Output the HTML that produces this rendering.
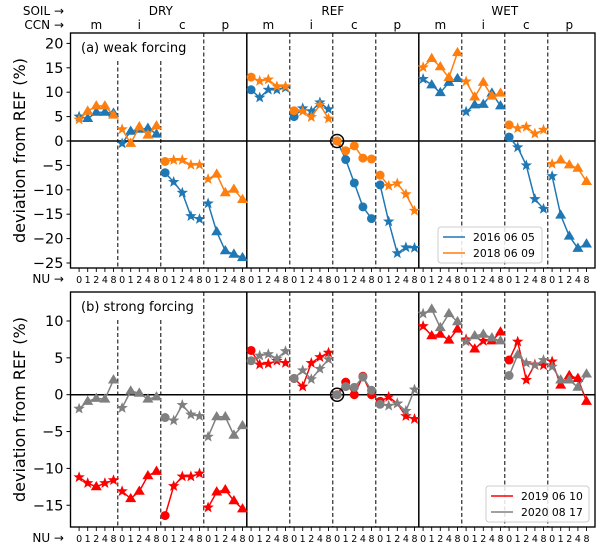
<!DOCTYPE html>
<html><head><meta charset="utf-8"><style>
body{margin:0;background:#fff;}
svg{display:block;font-family:"DejaVu Sans","Liberation Sans",sans-serif;}
</style></head><body>
<svg id="chart" width="600" height="551" viewBox="0 0 600 551"></svg>
<script>
// ---- data ----
const soilLabels = ["DRY","REF","WET"];
const ccnLabels = ["m","i","c","p"];
const nuLabels = ["0","1","2","4","8"];
const topTicks = [20,15,10,5,0,-5,-10,-15,-20,-25];
const botTicks = [10,5,0,-5,-10,-15];
const blue2016 = [5,4.6,5.9,5.9,5.7, -0.5,2,2.4,2.6,1.4, -6.5,-8.4,-10.6,-15.4,-16, -12.8,-18.6,-22.5,-23.2,-23.9,
  10.5,8.9,10.5,10.5,10.9, 5,6.7,6.1,7.9,6.5, 0,-3.8,-8.6,-13.5,-15.9, -9,-16.5,-23,-21.8,-21.9,
  12.7,11.5,9.9,12,12.8, 6,7.4,7.5,9.8,7.2, 0.8,-1.3,-5,-11.9,-13.9, -7.2,-15.2,-19.5,-22,-21.1];
const orange2018 = [4.4,6.1,7.2,7.2,5.3, 2.4,-0.5,2.9,1.2,3.1, -4.2,-3.9,-3.9,-4.9,-4.9, -7.8,-6.8,-10.6,-9.9,-12,
  13.1,12.3,12.6,11.2,11.2, 6.2,6.1,4.9,7.4,4.6, 0,-2,-1,-3.5,-3.7, -7,-9.2,-8.7,-10.9,-14.3,
  15.1,16.9,15.2,13,18.1, 12.2,9,12,9.2,9.8, 3.3,2.6,2.9,1.5,2.3, -4.7,-3.9,-4.9,-5.6,-8.3];
const red2019 = [-11.2,-12,-12.5,-12,-11.6, -13.1,-14.1,-13.1,-11,-10.4, -16.4,-12.4,-11.1,-11.1,-10.7, -15.3,-13.2,-12.9,-14.4,-15.5,
  6,4.1,4.2,4.6,4.3, 2.2,1.1,4.3,5.1,5.7, 0,1.7,0,2.5,0, -0.9,-0.3,-1.2,-2.9,-3.3,
  9.3,8,8.2,7.4,8.9, 7.5,6.2,7.3,7.3,8.5, 4.7,7.2,2,4.1,4, 4.5,1.3,2.6,2.2,-0.9];
const gray2020 = [-1.9,-0.9,-0.5,-0.6,2, -1.8,0.5,0.2,-0.6,-0.3, -3.1,-3.5,-1.4,-2.7,-2.9, -5.7,-3,-3,-5.5,-4.2,
  4.6,5.3,5.5,4.9,5.9, 2.2,3.3,2.1,3.5,4.8, 0,1.1,1,2.4,0.6, -1.3,-1.5,-1.2,-2.2,0.7,
  11,11.6,9.1,11,9.9, 7.2,8,8.2,7.7,7.3, 2.6,5.4,4.3,4,4.7, 3.8,2,2,1,2.8];
const mkBlue   = ["s^^^^","s^^^^","ossss","s^^^^","ossss","ossss","ooooo","ossss","s^^^^","s^^^^","ossss","s^^^^"].join("");
const mkOrange = mkBlue;
const mkRed    = ["ss^ss","s^^^^","ossss","s^^^^","ossss","ossss","ooooo","ossss","s^^^^","s^s^^","ossss","s^^^^"].join("");
const mkGray   = ["s^^^^","s^^^^","ossss","s^^^^","ossss","ossss","ooooo","ossss","s^^^^","s^^^^","o^sss","s^^^^"].join("");

// ---- geometry ----
const X0=70.5, DX=8.6, XR=595;
const xOf = i => X0 + DX*(i+1);
const panelTop = {y0:33, y1:268, zero:141, k:4.88};
const panelBot = {y0:292, y1:527, zero:394.7, k:7.37};
const yOf = (p,v) => p.zero - v*p.k;

const svg = document.getElementById('chart');
const NS = "http://www.w3.org/2000/svg";
function mk(tag, attrs, parent){ const e=document.createElementNS(NS,tag); for(const k in attrs) e.setAttribute(k,attrs[k]); (parent||svg).appendChild(e); return e; }

function star(cx,cy,r){ let d=""; for(let j=0;j<10;j++){ const a=-Math.PI/2+j*Math.PI/5; const rr=j%2?r*0.42:r; d+=(j?"L":"M")+(cx+rr*Math.cos(a)).toFixed(2)+","+(cy+rr*Math.sin(a)).toFixed(2);} return d+"Z"; }
function tri(cx,cy,r){ return `M${cx},${cy-r}L${cx+r*0.95},${cy+r*0.6}L${cx-r*0.95},${cy+r*0.6}Z`; }

function panel(p, label, series, ticks, key){
  const g = mk('g',{});
  
  
  const fr = mk('rect',{x:X0,y:p.y0,width:XR-X0,height:p.y1-p.y0,fill:'#fff',stroke:'#000','stroke-width':1.2},g);
  
  
  for(let b=1;b<12;b++){
    const x = X0 + DX*(5*b+0.5);
    if(b%4===0){
      const l=mk('line',{x1:x,x2:x,y1:p.y0,y2:p.y1,stroke:'#000','stroke-width':1.5},g);
      
      
    } else {
      const ys = (b<=2)? p.y0+28 : p.y0;
      const l=mk('line',{x1:x,x2:x,y1:ys,y2:p.y1,stroke:'#000','stroke-width':1,'stroke-dasharray':'4,2.5'},g);
      
      
    }
  }
  const zl=mk('line',{x1:X0,x2:XR,y1:p.zero,y2:p.zero,stroke:'#000','stroke-width':1.5},g);
  
  
  ticks.forEach(t=>{
    const y=yOf(p,t);
    mk('line',{x1:X0-4,x2:X0,y1:y,y2:y,stroke:'#000'},g);
    const tx=mk('text',{x:X0-7,y:y+5,'text-anchor':'end','font-size':14.5},g);
    tx.textContent = t<0 ? '\u2212'+(-t) : String(t);
    
    
  });
  for(let i=0;i<60;i++){
    const x=xOf(i);
    mk('line',{x1:x,x2:x,y1:p.y1,y2:p.y1+4,stroke:'#000','stroke-width':0.9},g);
    const t=mk('text',{x:x,y:p.y1+15,'text-anchor':'middle','font-size':9.5},g);
    t.textContent = nuLabels[i%5];
    
    
  }
  const nu=mk('text',{x:64,y:p.y1+15,'text-anchor':'end','font-size':12},g);
  nu.textContent='NU \u2192';
  
  
  series.forEach(s=>{
    const sg=mk('g',{},g);
    
    
    for(let gi=0;gi<12;gi++){
      let d="";
      for(let j=0;j<5;j++){ const i=gi*5+j; d+=(j?"L":"M")+xOf(i).toFixed(2)+","+yOf(p,s.vals[i]).toFixed(2); }
      const pl=mk('path',{d:d,fill:'none',stroke:s.color,'stroke-width':1.5},sg);
      
      
    }
    for(let i=0;i<60;i++){
      const cx=xOf(i), cy=yOf(p,s.vals[i]); const m=s.mk[i];
      let e;
      if(m==='o') e=mk('circle',{cx:cx,cy:cy,r:4.5,fill:s.color},sg);
      else if(m==='s') e=mk('path',{d:star(cx,cy,6),fill:s.color},sg);
      else e=mk('path',{d:tri(cx,cy,5.8),fill:s.color},sg);
      
      
    }
  });
  const rc=mk('circle',{cx:xOf(30),cy:p.zero,r:6.5,fill:'none',stroke:'#000','stroke-width':1.5},g);
  
  
  mk('rect',{x:X0+1,y:p.y0+1,width:120,height:26,fill:'#fff'},g);
  const pl=mk('text',{x:81,y:p.y0+19,'font-size':13},g);
  pl.textContent=label;
  
  
  mk('rect',{x:X0,y:p.y0,width:XR-X0,height:p.y1-p.y0,fill:'none',stroke:'#000','stroke-width':1.2},g);
  const yl=mk('text',{transform:`translate(25,${(p.y0+p.y1)/2}) rotate(-90)`,'text-anchor':'middle','font-size':16},g);
  yl.textContent='deviation from REF (%)';
  
  
}

function legend(x,y,w,entries,key){
  const lg=mk('g',{});
  
  
  mk('rect',{x:x,y:y,width:w,height:36,rx:3,fill:'#fff','fill-opacity':0.85,stroke:'#ccc'},lg);
  entries.forEach((e,k)=>{
    const yy=y+10+k*16;
    mk('line',{x1:x+5,x2:x+27,y1:yy,y2:yy,stroke:e.color,'stroke-width':1.6},lg);
    const t=mk('text',{x:x+35,y:yy+4,'font-size':10.8},lg);
    t.textContent=e.label;
    
    
  });
}

const sh=mk('text',{x:64,y:15,'text-anchor':'end','font-size':12}); sh.textContent='SOIL \u2192';


const ch=mk('text',{x:64,y:29,'text-anchor':'end','font-size':12}); ch.textContent='CCN \u2192';


soilLabels.forEach((s,k)=>{
  const t=mk('text',{x:X0+DX*(20*k+10.5),y:15,'text-anchor':'middle','font-size':12}); t.textContent=s;
  
  
});
for(let gi=0;gi<12;gi++){
  const t=mk('text',{x:X0+DX*(5*gi+3),y:29,'text-anchor':'middle','font-size':12}); t.textContent=ccnLabels[gi%4];
  
  
}

panel(panelTop,'(a) weak forcing',[
  {name:'series-2016-06-05',vals:blue2016,mk:mkBlue,color:'#1f77b4'},
  {name:'series-2018-06-09',vals:orange2018,mk:mkOrange,color:'#ff7f0e'}],topTicks,'weak');
panel(panelBot,'(b) strong forcing',[
  {name:'series-2019-06-10',vals:red2019,mk:mkRed,color:'#ff0000'},
  {name:'series-2020-08-17',vals:gray2020,mk:mkGray,color:'#808080'}],botTicks,'strong');

legend(438,227,104,[{label:'2016 06 05',color:'#1f77b4'},{label:'2018 06 09',color:'#ff7f0e'}],'legend-weak');
legend(486,486,103,[{label:'2019 06 10',color:'#ff0000'},{label:'2020 08 17',color:'#808080'}],'legend-strong');
</script>
</body></html>
